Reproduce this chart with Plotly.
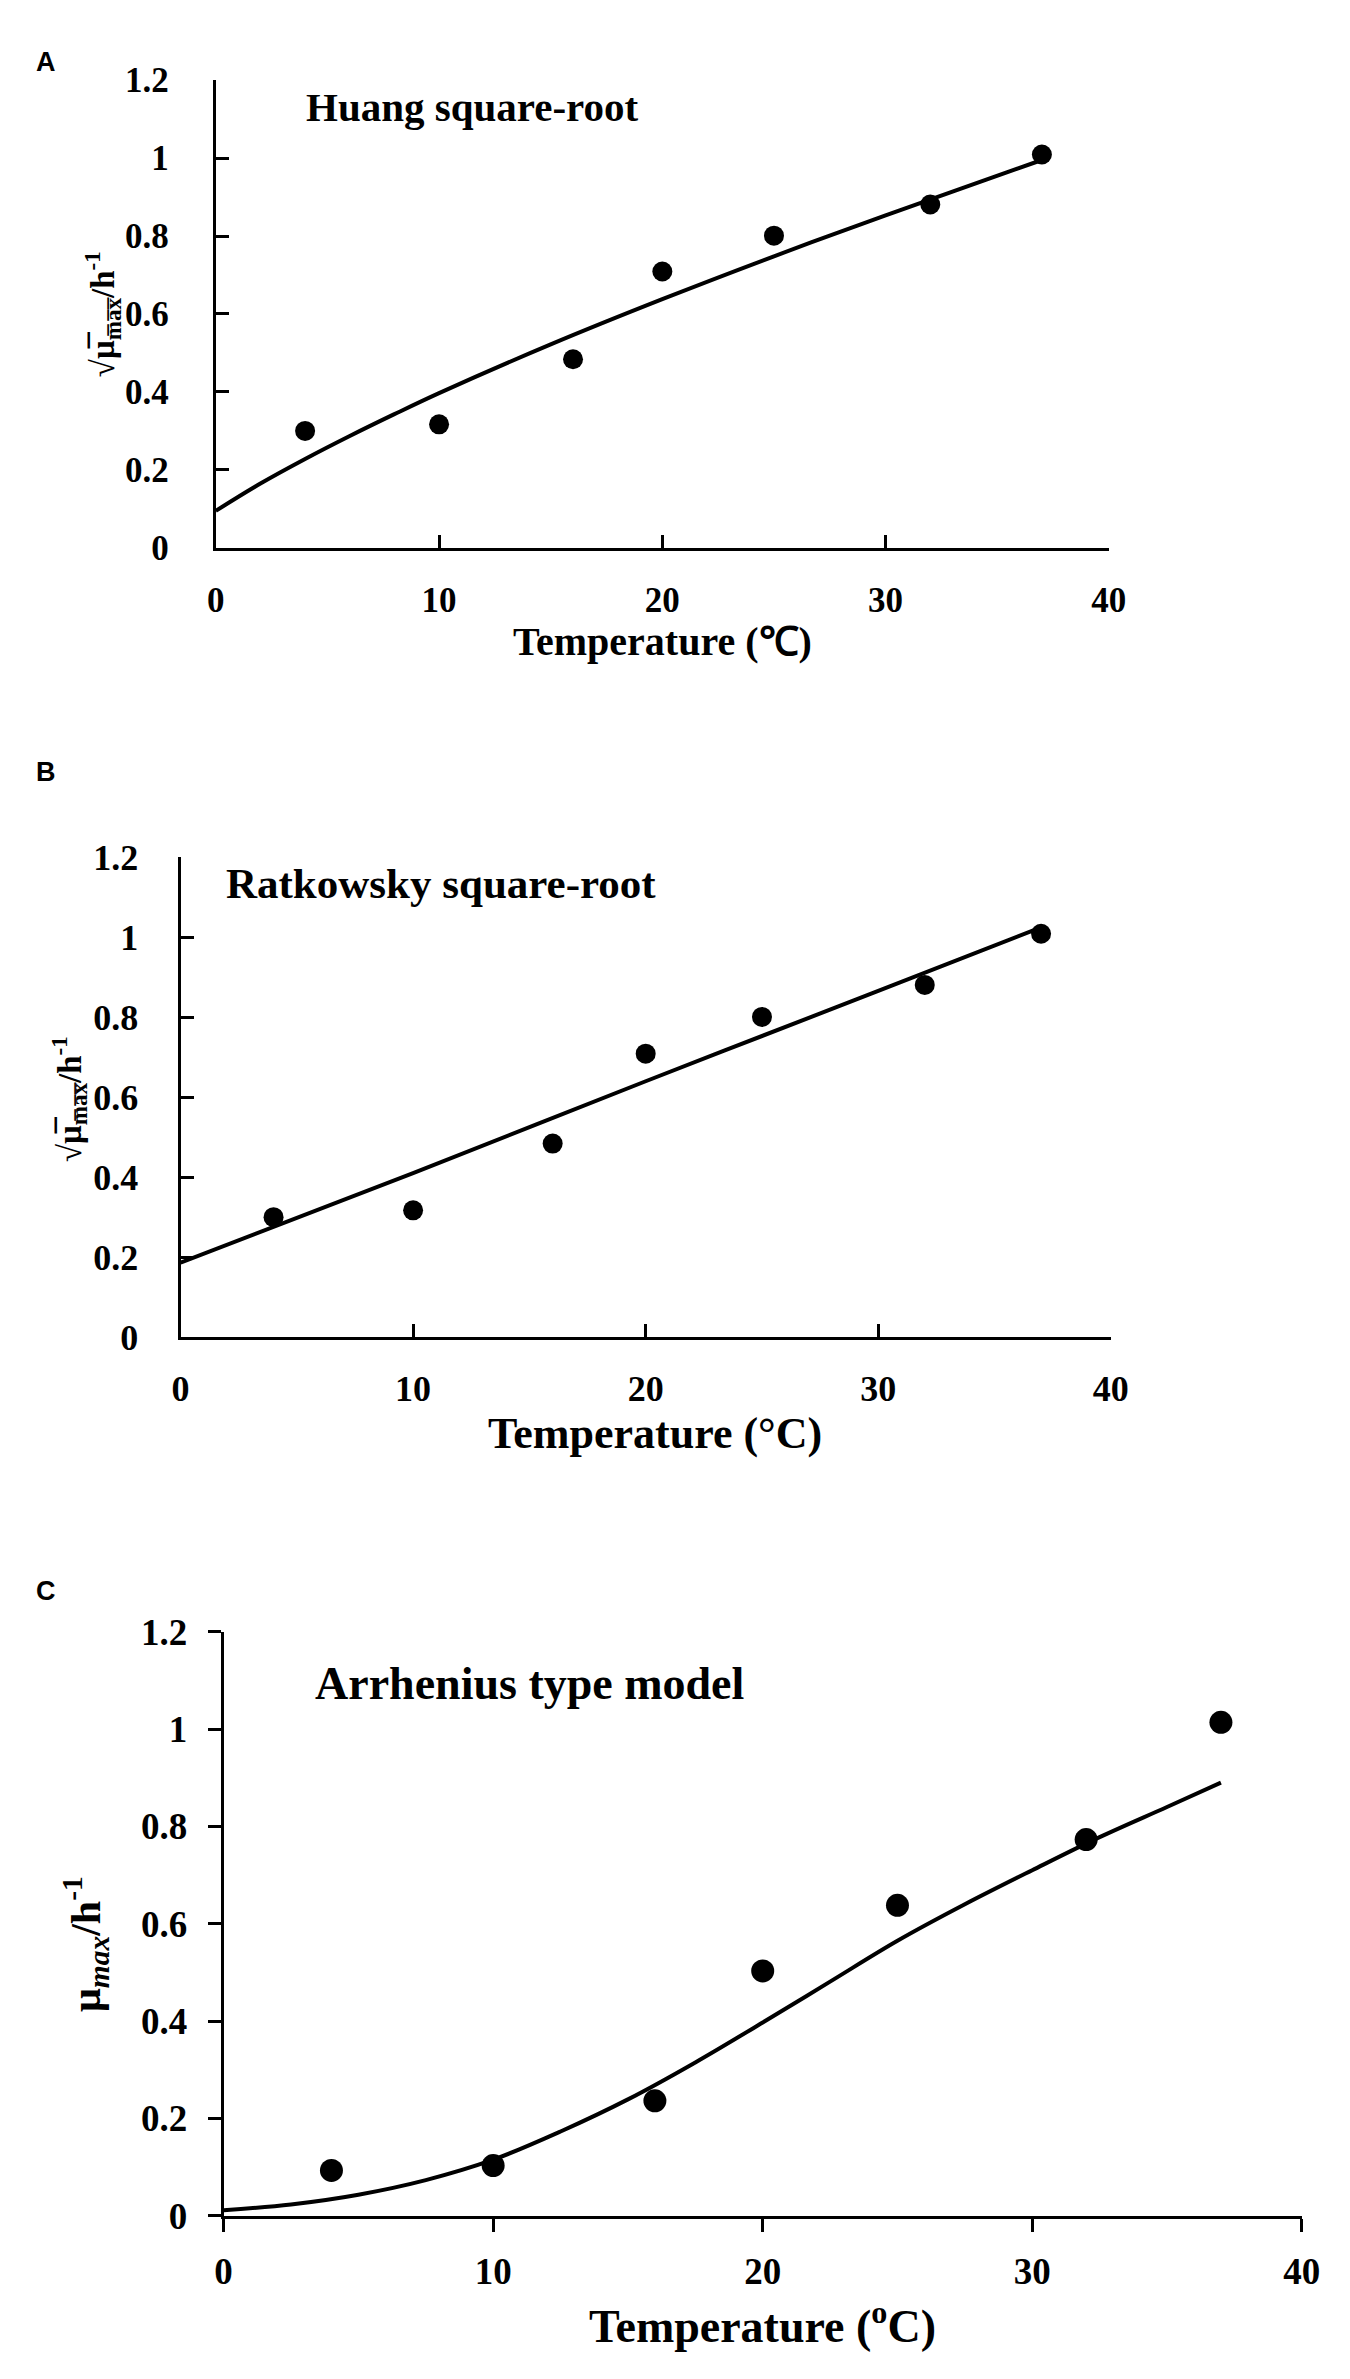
import plotly.graph_objects as go

W, H = 1350, 2379

# ---- data ----
temp_obs = [4, 10, 16, 20, 25, 32, 37]
sqrt_mu_obs = [0.30, 0.317, 0.484, 0.709, 0.801, 0.881, 1.009]
mu_obs = [0.093, 0.103, 0.236, 0.503, 0.638, 0.773, 1.014]

huang_t = [0, 2, 4, 6, 8, 10, 15, 20, 25, 30, 37]
huang_y = [0.095, 0.165, 0.228, 0.287, 0.343, 0.397, 0.522, 0.638, 0.748, 0.853, 0.995]

ratk_t = [0, 10, 20, 30, 37]
ratk_y = [0.186, 0.41, 0.64, 0.866, 1.025]

arr_t = [0, 2.5, 5, 7.5, 10, 12.5, 15, 17.5, 20, 22.5, 25, 27.5, 30, 32.5, 35, 37]
arr_y = [0.011, 0.023, 0.043, 0.073, 0.115, 0.173, 0.239, 0.315, 0.397, 0.481, 0.565,
         0.640, 0.710, 0.778, 0.840, 0.890]

x_ticks = [0, 10, 20, 30, 40]
y_ticks = [0, 0.2, 0.4, 0.6, 0.8, 1.0, 1.2]
y_ticktext = ["0", "0.2", "0.4", "0.6", "0.8", "1", "1.2"]

SERIF = "Liberation Serif, Times New Roman, serif"
SANS = "Liberation Sans, Arial, sans-serif"


def px(x):
    return x / W


def py(y):
    return 1 - y / H


# panel geometry in pixels
panels = {
    "A": dict(x0=203, x1=1115, ytop=53, ybot=529, ticks="inside"),
    "B": dict(x0=167, x1=1117, ytop=844, ybot=1332, ticks="inside"),
    "C": dict(x0=211, x1=1312, ytop=1632, ybot=2226, ticks="outside"),
}

fig = go.Figure()

axis_ids = {"A": ("x", "y"), "B": ("x2", "y2"), "C": ("x3", "y3")}
series = {
    "A": (sqrt_mu_obs, huang_t, huang_y),
    "B": (sqrt_mu_obs, ratk_t, ratk_y),
    "C": (mu_obs, arr_t, arr_y),
}
msize = {"A": 20, "B": 20, "C": 23}

for k, (xa, ya) in axis_ids.items():
    obs, ct, cy = series[k]
    fig.add_trace(go.Scatter(x=ct, y=cy, mode="lines", line=dict(color="black", width=4, shape="spline"),
                             xaxis=xa, yaxis=ya, showlegend=False, hoverinfo="skip"))
    fig.add_trace(go.Scatter(x=temp_obs, y=obs, mode="markers",
                             marker=dict(color="black", size=msize[k]),
                             xaxis=xa, yaxis=ya, showlegend=False))

tickfont = {"A": 35, "B": 36, "C": 37}
standoff_y = {"A": 37, "B": 32, "C": 13}
standoff_x = {"A": 19, "B": 18, "C": 8}

layout = dict(
    width=W, height=H, autosize=False,
    margin=dict(l=0, r=0, t=0, b=0),
    paper_bgcolor="white", plot_bgcolor="white",
    showlegend=False,
)

for k, (xa, ya) in axis_ids.items():
    g = panels[k]
    xname = "xaxis" + xa[1:]
    yname = "yaxis" + ya[1:]
    common = dict(showline=True, linewidth=3, linecolor="black", showgrid=False, zeroline=False,
                  ticks=g["ticks"], ticklen=13, tickwidth=3, tickcolor="black",
                  tickfont=dict(family=SERIF, size=tickfont[k], color="black", weight="bold"))
    layout[xname] = dict(domain=[px(g["x0"]), px(g["x1"])], range=[0, 40], tickvals=x_ticks,
                         anchor=ya, ticklabelstandoff=standoff_x[k], **common)
    layout[yname] = dict(domain=[py(g["ybot"]), py(g["ytop"])], range=[0, 1.2], tickvals=y_ticks,
                         ticktext=y_ticktext, anchor=xa, ticklabelstandoff=standoff_y[k], **common)

fig.update_layout(**layout)

ann = []
# panel letters
for letter, y in [("A", 35), ("B", 757), ("C", 1590)]:
    ann.append(dict(text=f"<b>{letter}</b>", x=px(30), y=py(y), xref="paper", yref="paper",
                    showarrow=False, xanchor="center", yanchor="middle",
                    font=dict(family=SANS, size=27, color="black")))

# panel titles
titles = [
    ("Huang square-root", 293, 80, 41),
    ("Ratkowsky square-root", 211, 870, 43),
    ("Arrhenius type model", 302, 1685, 46),
]
for t, x, y, s in titles:
    ann.append(dict(text=f"<b>{t}</b>", x=px(x), y=py(y), xref="paper", yref="paper",
                    showarrow=False, xanchor="left", yanchor="middle",
                    font=dict(family=SERIF, size=s, color="black")))

# x-axis titles
xtitles = [
    ("Temperature (\u2103)", 659, 624, 40),
    ("Temperature (\u00b0C)", 652, 1430, 44),
    ("Temperature (<sup>o</sup>C)", 761, 2335, 46),
]
for t, x, y, s in xtitles:
    ann.append(dict(text=f"<b>{t}</b>", x=px(x), y=py(y), xref="paper", yref="paper",
                    showarrow=False, xanchor="center", yanchor="middle",
                    font=dict(family=SERIF, size=s, color="black")))

# y-axis titles
ov = "\u0305"
sq_label = "<b>\u221a\u03bc" + ov + "<sub>m" + ov + "a" + ov + "x" + ov + "</sub>/h<sup>-1</sup></b>"
mu_label = "<b>\u03bc<sub><i>max</i></sub>/h<sup>-1</sup></b>"
ytitles = [
    (sq_label, 88, 291, 33),
    (sq_label, 53, 1090, 33),
    (mu_label, 70, 1950, 42),
]
for t, x, y, s in ytitles:
    ann.append(dict(text=t, x=px(x), y=py(y), xref="paper", yref="paper", textangle=-90,
                    showarrow=False, xanchor="center", yanchor="middle",
                    font=dict(family=SERIF, size=s, color="black")))

fig.update_layout(annotations=ann)
fig.write_html("out.html")
